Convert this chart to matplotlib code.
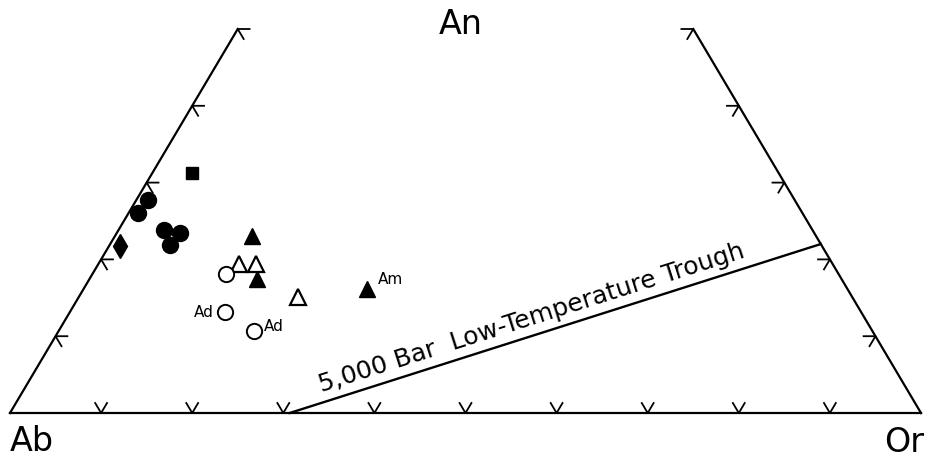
import numpy as np
import matplotlib
matplotlib.use("Agg")
import matplotlib.pyplot as plt

# compositions as fractions (Ab, An, Or)
sq_ab = [0.644]; sq_an = [0.313]; sq_or = [0.043]
fc_ab = [0.710, 0.729, 0.712, 0.696, 0.715]
fc_an = [0.277, 0.260, 0.238, 0.235, 0.219]
fc_or = [0.013, 0.011, 0.050, 0.069, 0.066]
dm_ab = [0.770]; dm_an = [0.218]; dm_or = [0.012]
ft_ab = [0.619, 0.642, 0.527]
ft_an = [0.230, 0.174, 0.162]
ft_or = [0.151, 0.184, 0.311]
ot_ab = [0.652, 0.633, 0.608]
ot_an = [0.194, 0.194, 0.151]
ot_or = [0.154, 0.173, 0.241]
oc_ab = [0.673, 0.699, 0.679]
oc_an = [0.181, 0.131, 0.107]
oc_or = [0.147, 0.170, 0.214]

# tie line (open circle to open triangles)
tie_an = [0.184, 0.184]
tie_or = [0.143, 0.182]

# 5,000 bar low-temperature trough (Ab, An, Or) end points
trough_ab = [0.693, 0.0]
trough_an = [0.0, 0.22]
trough_or = [0.307, 0.78]

tick_vals = [0.1, 0.2, 0.3, 0.4, 0.5, 0.6, 0.7, 0.8, 0.9]
side_ticks = [0.1, 0.2, 0.3, 0.4, 0.5]
an_top = 0.5


def to_xy(ab, an, orr):
    ab = np.asarray(ab, float); an = np.asarray(an, float); orr = np.asarray(orr, float)
    tot = ab + an + orr
    return (orr + an / 2) / tot, an / tot


fig = plt.figure(figsize=(9.28, 4.58), dpi=100)
ax = fig.add_axes([0, 0, 1, 1])
ax.set_xlim(-10 / 911, 918 / 911)
ax.set_ylim((413 - 458) / 768, 413 / 768)
ax.axis("off")

lw = 1.6
# triangle edges (truncated at An 50)
x, y = to_xy([0, 1, 1 - an_top], [0, 0, an_top], [1, 0, 0])
ax.plot(x[1:], y[1:], color="k", lw=lw)
ax.plot(x[:2], y[:2], color="k", lw=lw)
x, y = to_xy([0, 0], [0, an_top], [1, 1 - an_top])
ax.plot(x, y, color="k", lw=lw)

# chevron ticks
L = 0.013
for t in tick_vals:
    x, y = to_xy([1 - t, 1 - t, 1 - t - L], [L, 0, L], [t - L, t, t])
    ax.plot(x, y, color="k", lw=1.3)
for t in side_ticks:
    x, y = to_xy([1 - t - L, 1 - t, 1 - t], [t, t, t - L], [L, 0, L])
    ax.plot(x, y, color="k", lw=1.3)
    x, y = to_xy([L, 0, L], [t, t, t - L], [1 - t - L, 1 - t, 1 - t])
    ax.plot(x, y, color="k", lw=1.3)

# trough line and label
tx, ty = to_xy(trough_ab, trough_an, trough_or)
ax.plot(tx, ty, color="k", lw=1.7)
p0 = ax.transData.transform((tx[0], ty[0]))
p1 = ax.transData.transform((tx[1], ty[1]))
ang = np.degrees(np.arctan2(p1[1] - p0[1], p1[0] - p0[0]))
fx = 0.465
mx = tx[0] + fx * (tx[1] - tx[0])
my = ty[0] + fx * (ty[1] - ty[0])
ax.annotate("5,000 Bar  Low-Temperature Trough", (mx, my),
            xytext=(-4 * np.sin(np.radians(ang)), 4 * np.cos(np.radians(ang))),
            textcoords="offset points", rotation=ang, rotation_mode="anchor",
            ha="center", va="bottom", fontsize=18)

# tie line
x, y = to_xy(1 - np.array(tie_an) - np.array(tie_or), tie_an, tie_or)
ax.plot(x, y, color="k", lw=1.5)

# symbols
x, y = to_xy(sq_ab, sq_an, sq_or)
ax.plot(x, y, "s", color="k", ms=8.5)
x, y = to_xy(fc_ab, fc_an, fc_or)
ax.plot(x, y, "o", color="k", ms=11.5)
x, y = to_xy(dm_ab, dm_an, dm_or)
ax.plot(x, y, "d", color="k", ms=12.5)
x, y = to_xy(ft_ab, ft_an, ft_or)
ax.plot(x, y, "^", color="k", ms=11.5)
ox, oy = to_xy(ot_ab, ot_an, ot_or)
ax.plot(ox, oy, "^", mfc="white", mec="k", mew=1.6, ms=11.5)
cx, cy = to_xy(oc_ab, oc_an, oc_or)
ax.plot(cx, cy, "o", mfc="white", mec="k", mew=1.4, ms=11)

fx_, fy_ = to_xy(ft_ab, ft_an, ft_or)
ax.annotate("Am", (fx_[2], fy_[2]), xytext=(8, 1), textcoords="offset points",
            ha="left", va="bottom", fontsize=11)
ax.annotate("Ad", (cx[1], cy[1]), xytext=(-8, 0), textcoords="offset points",
            ha="right", va="center", fontsize=11)
ax.annotate("Ad", (cx[2], cy[2]), xytext=(7, 3), textcoords="offset points",
            ha="left", va="center", fontsize=11)

# apex labels
fig.text(461 / 928, 1 - 25 / 458, "An", ha="center", va="center", fontsize=24)
fig.text(10 / 928, 1 - 451 / 458, "Ab", ha="left", va="baseline", fontsize=24)
fig.text(924 / 928, 1 - 452 / 458, "Or", ha="right", va="baseline", fontsize=24)

fig.savefig("out.png", dpi=100)
